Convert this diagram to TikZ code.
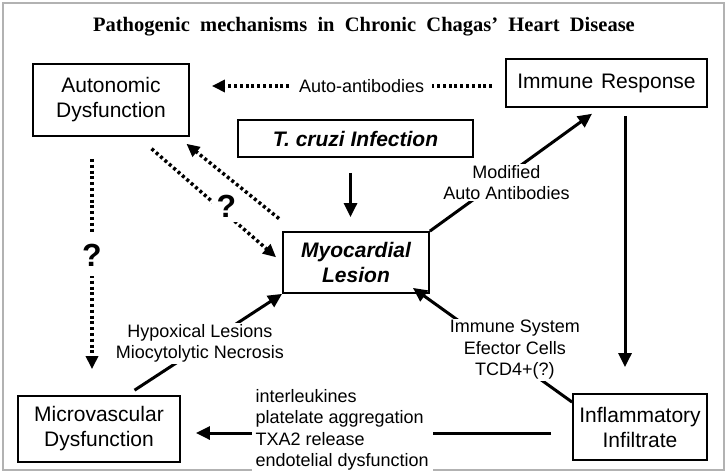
\documentclass[tikz,border=0pt]{standalone}
\usepackage{fontspec}
\setmainfont{Liberation Sans}
\newfontfamily\titlefont{Liberation Serif}
\usetikzlibrary{arrows.meta,positioning}

\begin{document}
\begin{tikzpicture}[x=1pt,y=-1pt,align=center]
\tikzstyle{box}=[draw,line width=1.8pt,inner sep=0pt,font=\fontsize{21}{25}\selectfont]
\tikzstyle{boldbox}=[box,font=\fontsize{21}{25}\selectfont\bfseries\itshape]
\tikzstyle{lbl}=[fill=white,inner sep=1pt,font=\fontsize{18}{21.5}\selectfont]
\tikzstyle{qmark}=[fill=white,inner sep=5pt,font=\fontsize{32}{32}\selectfont\bfseries]
\tikzstyle{solidarr}=[line width=3pt,-{Triangle[length=14pt,width=13pt]}]
\tikzstyle{dotarr}=[line width=3.5pt,dash pattern=on 3pt off 2.8pt,-{Triangle[length=13pt,width=12pt]}]

\useasboundingbox (0,0) rectangle (727,473);
\draw[gray!60,line width=1.5pt] (3,3) rectangle (724,470);

\node[font=\titlefont\fontsize{20.5}{24}\selectfont\bfseries] (title) at (364,27)
  {Pathogenic\ \ mechanisms\ \ in\ \ Chronic\ \ Chagas’\ \ Heart\ \ Disease};

% the six boxes
\node[box,minimum width=156pt,minimum height=72pt] (auto) at (111,100) {Autonomic\\Dysfunction};
\node[box,minimum width=201pt,minimum height=48pt] (immune) at (606.5,83) {Immune\ \kern2pt Response};
\node[boldbox,minimum width=235pt,minimum height=37pt] (cruzi) at (355.5,138.5) {T.\ cruzi\ Infection};
\node[boldbox,minimum width=146pt,minimum height=61pt] (myo) at (356,262.5) {Myocardial\\Lesion};
\node[box,minimum width=162pt,minimum height=66pt] (micro) at (99,429) {Microvascular\\Dysfunction};
\node[box,minimum width=134pt,minimum height=66pt] (infl) at (640,427) {Inflammatory\\Infiltrate};

% solid arrows
\draw[solidarr,shorten <=15pt,shorten >=14pt] ([xshift=-5pt]cruzi.south) -- ([xshift=-5pt]cruzi.south |- myo.north);
\draw[solidarr,shorten >=10pt] (myo.north east) -- node[lbl,pos=.45,yshift=-7pt] {Modified\\Auto Antibodies} ([xshift=95pt]immune.south west);
\draw[solidarr,shorten <=8pt,shorten >=26pt] ([xshift=18.5pt]immune.south) -- ([xshift=18.5pt]immune.south |- infl.north);
\draw[solidarr,shorten <=21pt,shorten >=15pt] ([yshift=-6pt]infl.west) -- node[lbl,pos=.588,yshift=3pt,align=left,inner xsep=4pt] {interleukines\\platelate aggregation\\TXA2 release\\endotelial dysfunction} ([yshift=-6pt]infl.west -| micro.east);
\draw[solidarr,shorten <=9pt] ([xshift=28pt]micro.north) -- node[lbl,pos=.47,yshift=4pt] {Hypoxical Lesions\\Miocytolytic Necrosis} (myo.south west);
\draw[solidarr] ([yshift=-9pt]infl.north west) -- node[lbl,pos=.36,yshift=11pt] {Immune System\\Efector Cells\\TCD4+(?)} ([xshift=-17pt,yshift=6pt]myo.south east);

% dotted arrows
\draw[dotarr,shorten <=13pt,shorten >=22pt] ([yshift=-3pt]immune.west) -- node[lbl,pos=.455,inner xsep=8pt] {Auto-antibodies} ([yshift=-3pt]immune.west -| auto.east);
\draw[dotarr,shorten <=22pt,shorten >=26pt] ([xshift=-19pt]auto.south) -- node[qmark,pos=.458,inner ysep=10pt] {?} ([xshift=-19pt]auto.south |- micro.north);
\draw[dotarr,shorten <=4pt,shorten >=11pt] ([yshift=10pt]myo.north west) -- ([xshift=-12pt]auto.south east);
\draw[dotarr,shorten <=18pt,shorten >=8pt] ([xshift=27pt]auto.south) -- node[qmark,pos=.614,yshift=8pt] {?} (myo.west);
\end{tikzpicture}
\end{document}
